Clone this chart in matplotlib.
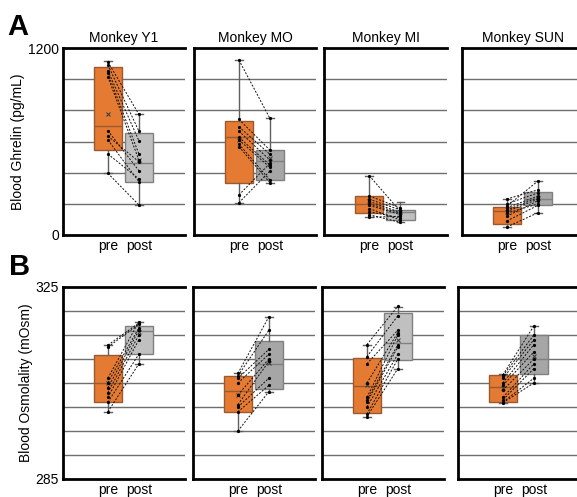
import matplotlib
matplotlib.use("Agg")
import matplotlib.pyplot as plt

plt.rcParams['font.family'] = ['Liberation Sans', 'DejaVu Sans']

monkeys = ["Monkey Y1", "Monkey MO", "Monkey MI", "Monkey SUN"]
groups = ["pre", "post"]

# box stats: [whislo, q1, med, q3, whishi, mean]
ghr_box_pre = [
    [396, 545, 697, 1076, 1118, 776],
    [207, 336, 629, 733, 1123, 610],
    [114, 143, 199, 248, 381, 216],
    [51, 73, 152, 177, 231, 148],
]
ghr_box_post = [
    [193, 340, 460, 652, 775, 481],
    [336, 353, 475, 545, 749, 494],
    [81, 98, 147, 163, 210, 147],
    [143, 193, 229, 273, 346, 240],
]
osm_box_pre = [
    [299.0, 301.1, 304.9, 310.8, 312.9, 305.1],
    [295.0, 299.0, 303.3, 306.5, 307.0, 302.4],
    [297.9, 298.7, 304.4, 310.3, 312.9, 304.6],
    [300.9, 301.0, 304.2, 306.7, 306.8, 303.9],
]
osm_box_post = [
    [308.9, 311.1, 315.9, 316.9, 317.8, 315.6],
    [303.2, 303.75, 309.0, 313.8, 318.8, 309.2],
    [307.9, 309.8, 313.3, 319.5, 320.9, 314.0],
    [305.0, 306.9, 309.9, 314.9, 316.9, 310.6],
]

# individual paired samples
ghr_pre = [
    [1110, 1091, 1054, 1037, 1016, 669, 635, 610, 520, 396],
    [1123, 742, 695, 667, 627, 610, 584, 567, 257, 207],
    [381, 250, 230, 215, 200, 190, 170, 150, 130, 114],
    [231, 200, 185, 175, 160, 150, 140, 120, 90, 51],
]
ghr_post = [
    [775, 667, 605, 520, 481, 413, 470, 342, 360, 193],
    [749, 545, 518, 481, 449, 434, 353, 336, 460, 410],
    [150, 175, 160, 145, 140, 130, 95, 110, 81, 120],
    [290, 270, 346, 250, 240, 230, 200, 220, 190, 143],
]
osm_pre = [
    [312.9, 312.5, 306.0, 305.1, 304.0, 303.0, 302.0, 301.0, 299.0],
    [307.0, 306.5, 306.0, 305.0, 302.5, 300.5, 300.0, 299.0, 295.0],
    [313.0, 310.5, 309.0, 305.0, 302.0, 301.5, 301.0, 300.0, 298.5, 298.0],
    [306.7, 306.5, 306.0, 305.0, 304.5, 303.5, 302.0, 301.5, 301.0, 300.9],
]
osm_post = [
    [317.5, 317.2, 317.8, 316.5, 316.0, 315.0, 314.0, 311.0, 309.0],
    [318.8, 316.0, 312.0, 311.0, 310.0, 309.5, 306.0, 304.5, 303.2],
    [321.0, 319.0, 316.0, 315.5, 315.0, 313.0, 312.5, 311.0, 310.0, 308.0],
    [316.9, 315.0, 314.0, 313.0, 311.5, 310.0, 309.0, 308.0, 306.0, 305.0],
]

ghr_limits = [0, 1200]
ghr_grid = [200, 400, 600, 800, 1000]
osm_limits = [285, 325]
osm_grid = [290, 295, 300, 305, 310, 315, 320]

pre_color = '#E57A33'
post_colors = ['#C0C0C0', '#A6A6A6', '#C0C0C0', '#A6A6A6']

W, H = 577, 497
fig = plt.figure(figsize=(W / 100, H / 100), dpi=100)


def rect(x0, y0, x1, y1):
    return [x0 / W, 1 - y1 / H, (x1 - x0) / W, (y1 - y0) / H]


top_x = [(63, 185), (194, 316), (324, 447), (462, 584)]
bot_x = [(63, 185), (193, 315), (322, 444), (458, 580)]


def stats(b, label):
    return dict(whislo=b[0], q1=b[1], med=b[2], q3=b[3], whishi=b[4],
                mean=b[5], fliers=[], label=label)


def draw_panel(ax, bpre, bpost, pre, post, lim, grid, pcolor, first, ylabel):
    for g in grid:
        ax.axhline(g, color='#6E6E6E', lw=1.0, zorder=0)
    for i, (b, fc, ec) in enumerate([(bpre, pre_color, '#9A5A30'),
                                      (bpost, pcolor, '#808080')]):
        ax.bxp([stats(b, groups[i])], positions=[i + 1], widths=0.9,
               showmeans=True, patch_artist=True,
               boxprops=dict(facecolor=fc, edgecolor=ec, lw=1.0),
               medianprops=dict(color=ec, lw=1.0),
               whiskerprops=dict(color='#606060', lw=1.0),
               capprops=dict(color='#606060', lw=1.0),
               capwidths=0.25,
               meanprops=dict(marker='x', markeredgecolor='#404040',
                              markersize=3.5, markeredgewidth=0.8),
               zorder=2)
    for a, b in zip(pre, post):
        ax.plot([1, 2], [a, b], ls=(0, (2.0, 1.6)), color='#111111', lw=0.7,
                zorder=3)
        ax.plot([1, 2], [a, b], ls='none', marker='o', ms=1.3, color='black',
                zorder=4)
    ax.set_xlim(-0.45, 3.49)
    ax.set_ylim(*lim)
    ax.set_xticks([1, 2])
    ax.set_xticklabels(groups, fontsize=10)
    ax.tick_params(axis='both', length=0, pad=3)
    for s in ['left', 'top', 'bottom']:
        ax.spines[s].set_linewidth(2.0)
        ax.spines[s].set_color('black')
    ax.spines['right'].set_visible(False)
    if first:
        ax.set_yticks(lim)
        ax.set_yticklabels([str(v) for v in lim], fontsize=10)
        ax.set_ylabel(ylabel, fontsize=10, labelpad=2)
    else:
        ax.set_yticks([])


for k in range(4):
    ax = fig.add_axes(rect(top_x[k][0], 48, top_x[k][1], 235))
    draw_panel(ax, ghr_box_pre[k], ghr_box_post[k], ghr_pre[k], ghr_post[k],
               ghr_limits, ghr_grid, post_colors[k], k == 0,
               'Blood Ghrelin (pg/mL)')
    ax.set_title(monkeys[k], fontsize=10, pad=4)

for k in range(4):
    ax = fig.add_axes(rect(bot_x[k][0], 287, bot_x[k][1], 479))
    draw_panel(ax, osm_box_pre[k], osm_box_post[k], osm_pre[k], osm_post[k],
               osm_limits, osm_grid, post_colors[k], k == 0,
               'Blood Osmolality (mOsm)')

fig.text(7 / W, 1 - 35 / H, 'A', fontsize=21, fontweight='bold')
fig.text(9 / W, 1 - 275 / H, 'B', fontsize=21, fontweight='bold')

fig.savefig('out.png', dpi=100)
